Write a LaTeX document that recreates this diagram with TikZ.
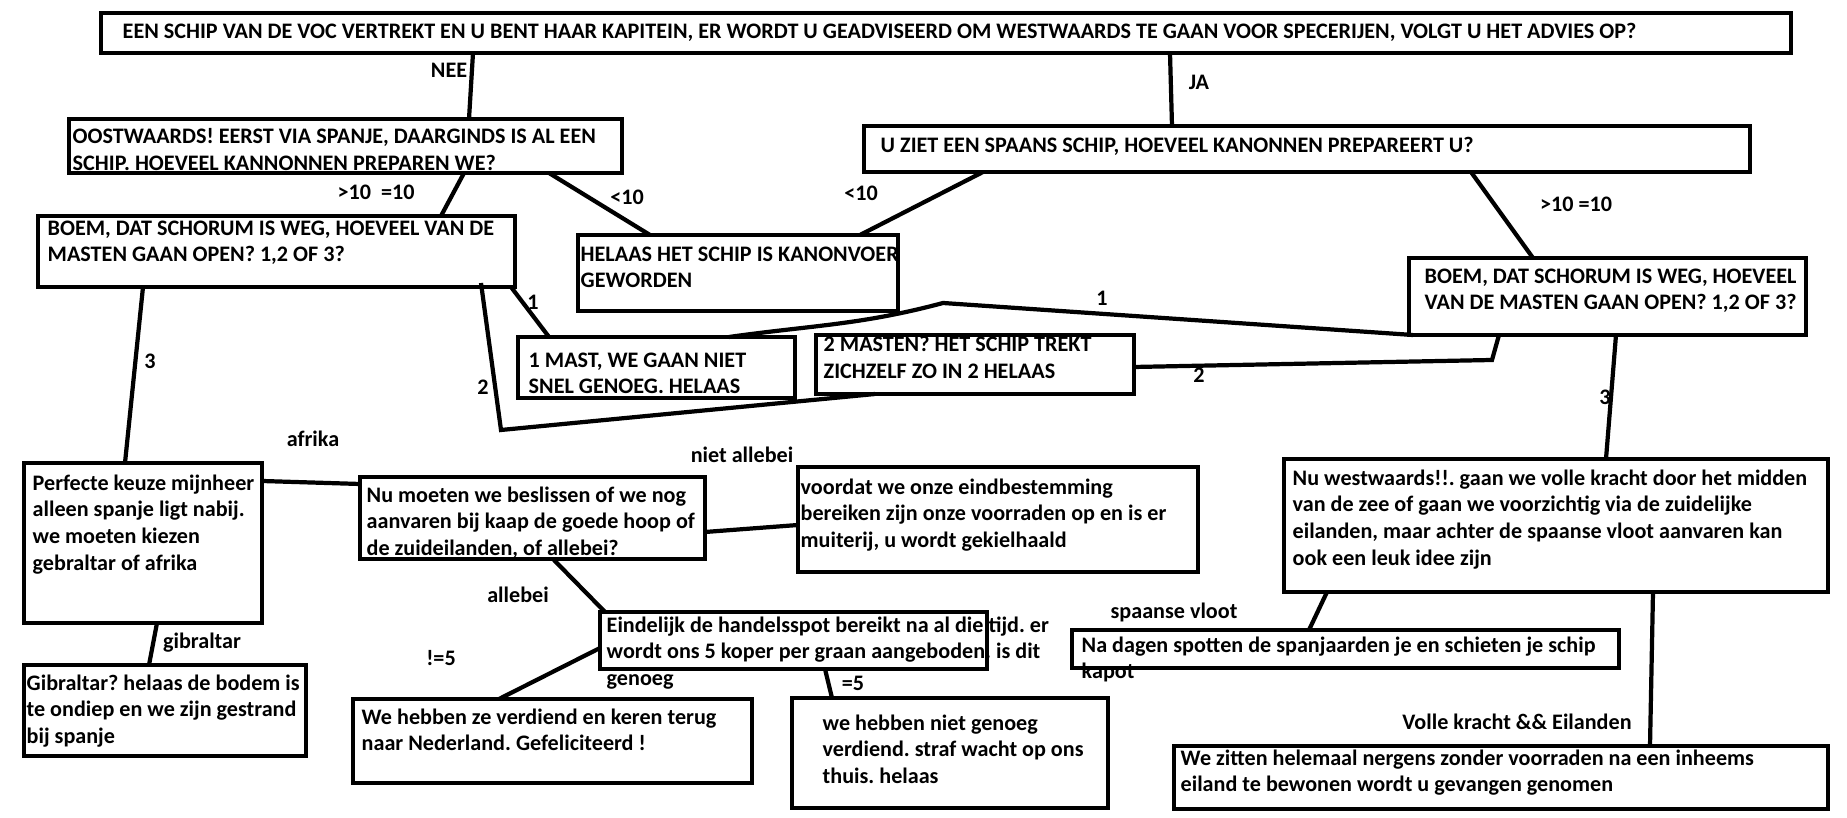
\documentclass[tikz,border=0pt]{standalone}
\usepackage{fontspec}
\setmainfont{Carlito}
\usepackage{tikz}
\frenchspacing

\tikzset{
  vak/.style={draw, line width=1.2pt, inner sep=0pt, outer sep=0pt, anchor=north west},
  tekst/.style={anchor=north west, inner sep=0pt, align=left, font=\fontsize{6.3}{7.58}\selectfont\bfseries},
  keuze/.style={inner sep=0pt, font=\fontsize{6.3}{7.58}\selectfont\bfseries},
  lijn/.style={line width=1.2pt}
}

\begin{document}
\begin{tikzpicture}

\useasboundingbox (0,0) rectangle (18.47,-8.18) ;

\node [vak, minimum width=16.90cm, minimum height=0.40cm] (vraag) at (1.01,-0.13) {} ;
\node [vak, minimum width=5.53cm, minimum height=0.54cm] (oost) at (0.69,-1.19) {} ;
\node [vak, minimum width=8.86cm, minimum height=0.46cm] (spaans) at (8.64,-1.26) {} ;
\node [vak, minimum width=4.77cm, minimum height=0.71cm] (boemL) at (0.38,-2.16) {} ;
\node [vak, minimum width=3.20cm, minimum height=0.76cm] (kanon) at (5.78,-2.35) {} ;
\node [vak, minimum width=3.97cm, minimum height=0.77cm] (boemR) at (14.09,-2.58) {} ;
\node [vak, minimum width=2.77cm, minimum height=0.61cm] (mast1) at (5.18,-3.37) {} ;
\node [vak, minimum width=3.18cm, minimum height=0.59cm] (mast2) at (8.16,-3.35) {} ;
\node [vak, minimum width=2.38cm, minimum height=1.60cm] (perfect) at (0.24,-4.63) {} ;
\node [vak, minimum width=2.82cm, minimum height=0.91cm] (gibr) at (0.24,-6.65) {} ;
\node [vak, minimum width=3.45cm, minimum height=0.82cm] (kiezen) at (3.60,-4.77) {} ;
\node [vak, minimum width=4.00cm, minimum height=1.05cm] (muiterij) at (7.98,-4.67) {} ;
\node [vak, minimum width=3.87cm, minimum height=0.57cm] (handel) at (6.00,-6.12) {} ;
\node [vak, minimum width=3.99cm, minimum height=0.84cm] (thuis) at (3.53,-6.99) {} ;
\node [vak, minimum width=3.16cm, minimum height=1.10cm] (straf) at (7.92,-6.98) {} ;
\node [vak, minimum width=5.44cm, minimum height=1.33cm] (west) at (12.84,-4.59) {} ;
\node [vak, minimum width=5.47cm, minimum height=0.38cm] (vloot) at (10.72,-6.30) {} ;
\node [vak, minimum width=6.54cm, minimum height=0.63cm] (eiland) at (11.74,-7.46) {} ;

\node [tekst] (vraagT) at (1.22,-0.23) {EEN SCHIP VAN DE VOC VERTREKT EN U BENT HAAR KAPITEIN, ER WORDT U GEADVISEERD OM WESTWAARDS TE GAAN VOOR SPECERIJEN, VOLGT U HET ADVIES OP?} ;
\node [tekst] (oostT) at (0.72,-1.28) {OOSTWAARDS! EERST VIA SPANJE, DAARGINDS IS AL EEN\\SCHIP. HOEVEEL KANNONNEN PREPAREN WE?} ;
\node [tekst] (spaansT) at (8.80,-1.37) {U ZIET EEN SPAANS SCHIP, HOEVEEL KANONNEN PREPAREERT U?} ;
\node [tekst] (boemLT) at (0.47,-2.20) {BOEM, DAT SCHORUM IS WEG, HOEVEEL VAN DE\\MASTEN GAAN OPEN? 1,2 OF 3?} ;
\node [tekst] (kanonT) at (5.80,-2.46) {HELAAS HET SCHIP IS KANONVOER\\GEWORDEN} ;
\node [tekst] (boemRT) at (14.24,-2.68) {BOEM, DAT SCHORUM IS WEG, HOEVEEL\\VAN DE MASTEN GAAN OPEN? 1,2 OF 3?} ;
\node [tekst] (mast1T) at (5.28,-3.52) {1 MAST, WE GAAN NIET\\SNEL GENOEG. HELAAS} ;
\node [tekst] (mast2T) at (8.23,-3.36) {2 MASTEN? HET SCHIP TREKT\\ZICHZELF ZO IN 2 HELAAS} ;
\node [tekst] (perfectT) at (0.32,-4.74) {Perfecte keuze mijnheer\\alleen spanje ligt nabij.\\we moeten kiezen\\gebraltar of afrika} ;
\node [tekst] (gibrT) at (0.26,-6.74) {Gibraltar? helaas de bodem is\\te ondiep en we zijn gestrand\\bij spanje} ;
\node [tekst] (kiezenT) at (3.66,-4.86) {Nu moeten we beslissen of we nog\\aanvaren bij kaap de goede hoop of\\de zuideilanden, of allebei?} ;
\node [tekst] (muiterijT) at (8.00,-4.78) {voordat we onze eindbestemming\\bereiken zijn onze voorraden op en is er\\muiterij, u wordt gekielhaald} ;
\node [tekst] (handelT) at (6.06,-6.16) {Eindelijk de handelsspot bereikt na al die tijd. er\\wordt ons 5 koper per graan aangeboden. is dit\\genoeg} ;
\node [tekst] (thuisT) at (3.61,-7.08) {We hebben ze verdiend en keren terug\\naar Nederland. Gefeliciteerd !} ;
\node [tekst] (strafT) at (8.22,-7.14) {we hebben niet genoeg\\verdiend. straf wacht op ons\\thuis. helaas} ;
\node [tekst] (westT) at (12.92,-4.69) {Nu westwaards!!. gaan we volle kracht door het midden\\van de zee of gaan we voorzichtig via de zuidelijke\\eilanden, maar achter de spaanse vloot aanvaren kan\\ook een leuk idee zijn} ;
\node [tekst] (vlootT) at (10.81,-6.36) {Na dagen spotten de spanjaarden je en schieten je schip\\kapot} ;
\node [tekst] (eilandT) at (11.80,-7.49) {We zitten helemaal nergens zonder voorraden na een inheems\\eiland te bewonen wordt u gevangen genomen} ;

\coordinate (knikL) at (5.01,-4.30) ;
\coordinate (knikR) at (14.92,-3.60) ;
\coordinate (piek) at (9.43,-3.03) ;

\draw [lijn] ([xshift=3.72cm]vraag.south west) to ([xshift=4.00cm]oost.north west) ;
\draw [lijn] ([xshift=10.69cm]vraag.south west) to ([xshift=3.08cm]spaans.north west) ;
\draw [lijn] ([xshift=3.95cm]oost.south west) to ([xshift=4.03cm]boemL.north west) ;
\draw [lijn] ([xshift=4.80cm]oost.south west) to ([xshift=0.72cm]kanon.north west) ;
\draw [lijn] ([xshift=1.19cm]spaans.south west) to ([xshift=2.82cm]kanon.north west) ;
\draw [lijn] ([xshift=6.07cm]spaans.south west) to ([xshift=1.24cm]boemR.north west) ;
\draw [lijn] ([xshift=1.05cm]boemL.south west) to ([xshift=1.01cm]perfect.north west) ;
\draw [lijn] ([xshift=-0.04cm]boemL.south east) to ([xshift=0.31cm]mast1.north west) ;
\draw [lijn] ([xshift=-0.34cm,yshift=0.04cm]boemL.south east) -- (knikL) -- ([xshift=0.59cm]mast2.south west) ;
\draw [lijn] ([xshift=0.04cm]boemR.south west) -- (piek) to [out=195, in=8] ([xshift=2.11cm]mast1.north west) ;
\draw [lijn] ([xshift=0.90cm]boemR.south west) -- (knikR) -- ([yshift=0.27cm]mast2.south east) ;
\draw [lijn] ([xshift=2.07cm]boemR.south west) to ([xshift=3.22cm]west.north west) ;
\draw [lijn] ([yshift=-0.18cm]perfect.north east) to ([yshift=-0.07cm]kiezen.north west) ;
\draw [lijn] ([xshift=1.33cm]perfect.south west) to ([xshift=1.25cm]gibr.north west) ;
\draw [lijn] ([yshift=0.27cm]kiezen.south east) to ([yshift=-0.58cm]muiterij.north west) ;
\draw [lijn] ([xshift=1.93cm]kiezen.south west) to ([xshift=0.05cm]handel.north west) ;
\draw [lijn] ([yshift=0.21cm]handel.south west) to ([xshift=1.46cm]thuis.north west) ;
\draw [lijn] ([xshift=2.25cm]handel.south west) to ([xshift=0.40cm]straf.north west) ;
\draw [lijn] ([xshift=0.43cm]west.south west) to ([xshift=2.37cm]vloot.north west) ;
\draw [lijn] ([xshift=3.69cm]west.south west) to ([xshift=4.76cm]eiland.north west) ;

\node [keuze] (nee) at (4.49,-0.70) {NEE} ;
\node [keuze] (ja) at (11.99,-0.82) {JA} ;
\node [keuze] (meerL) at (3.76,-1.92) {>10\ \ =10} ;
\node [keuze] (minderL) at (6.27,-1.97) {<10} ;
\node [keuze] (minderR) at (8.61,-1.93) {<10} ;
\node [keuze] (meerR) at (15.76,-2.04) {>10 =10} ;
\node [keuze] (drieL) at (1.50,-3.61) {3} ;
\node [keuze] (eenL) at (5.33,-3.02) {1} ;
\node [keuze] (tweeL) at (4.83,-3.87) {2} ;
\node [keuze] (eenR) at (11.02,-2.98) {1} ;
\node [keuze] (tweeR) at (11.99,-3.75) {2} ;
\node [keuze] (drieR) at (16.05,-3.97) {3} ;
\node [keuze] (afrika) at (3.13,-4.39) {afrika} ;
\node [keuze] (gibraltar) at (2.02,-6.43) {gibraltar} ;
\node [keuze] (nietbeide) at (7.42,-4.55) {niet allebei} ;
\node [keuze] (beide) at (5.18,-5.95) {allebei} ;
\node [keuze] (niet5) at (4.41,-6.58) {!=5} ;
\node [keuze] (is5) at (8.53,-6.83) {=5} ;
\node [keuze] (vlootK) at (11.74,-6.12) {spaanse vloot} ;
\node [keuze] (volle) at (15.17,-7.22) {Volle kracht \&\& Eilanden} ;

\end{tikzpicture}
\end{document}
